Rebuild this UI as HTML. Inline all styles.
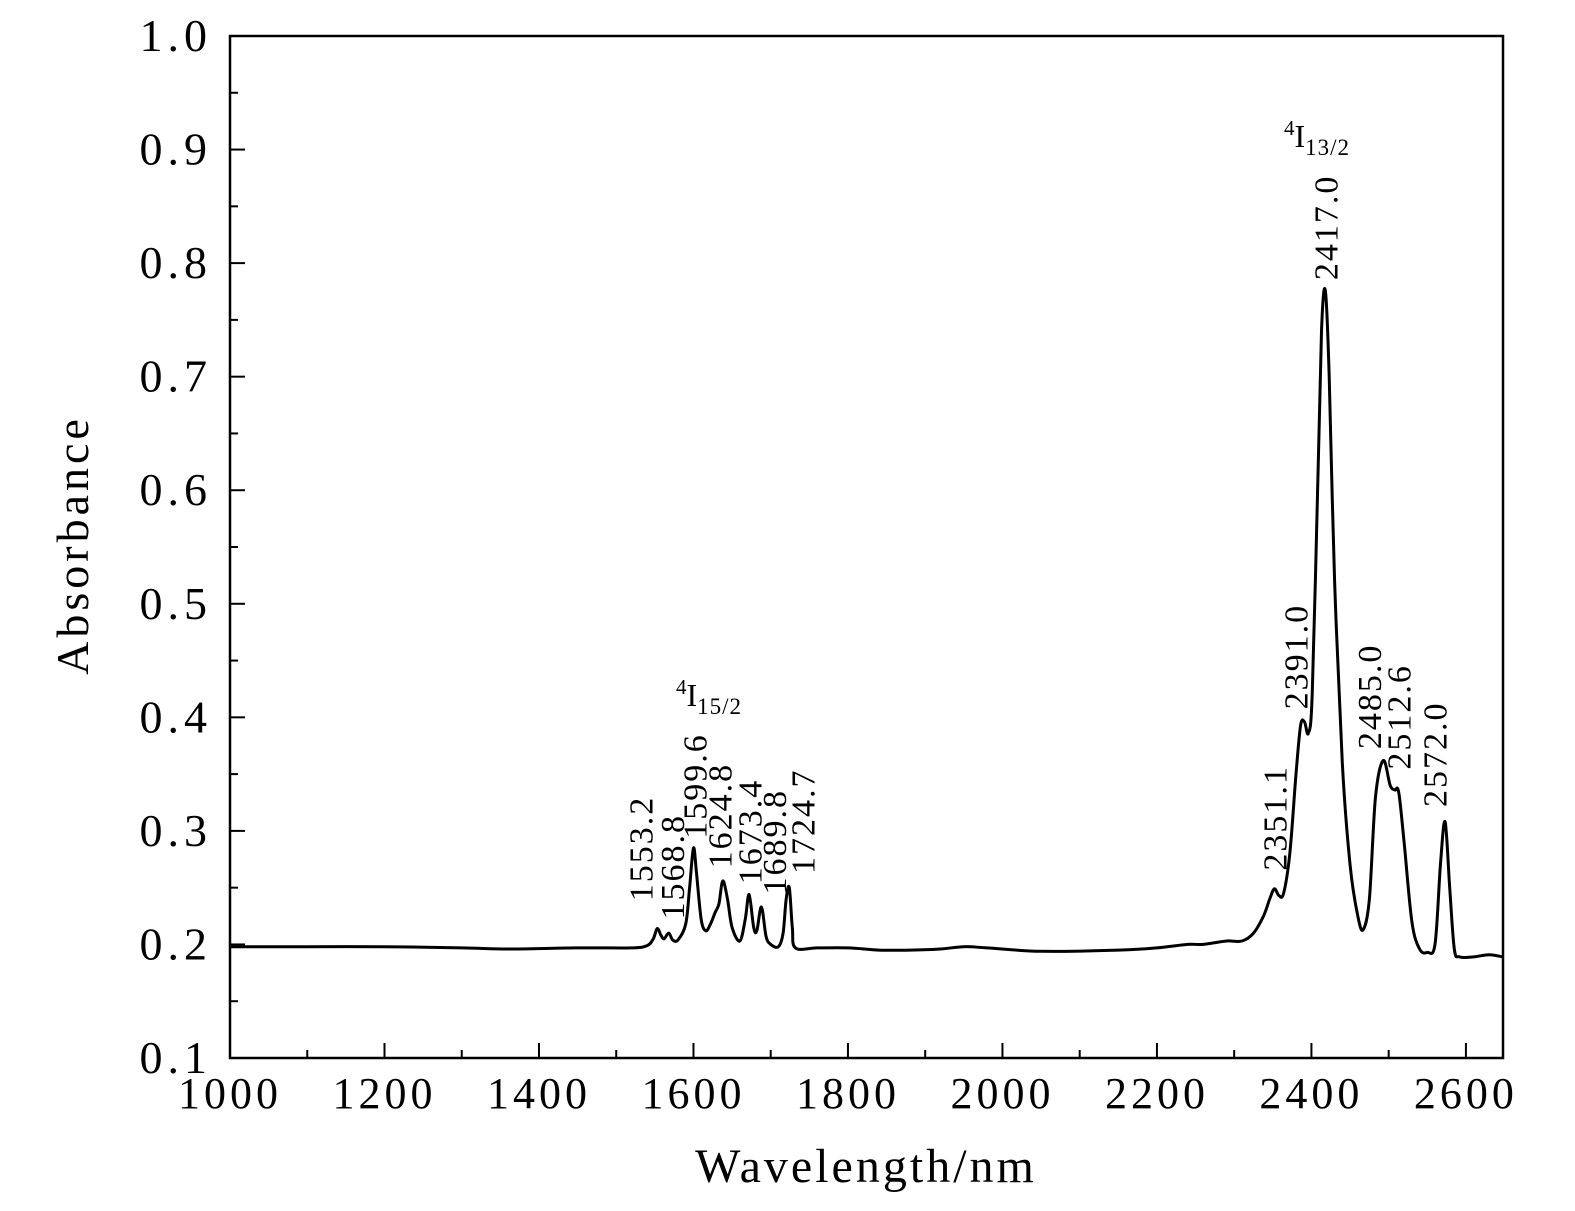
<!DOCTYPE html>
<html><head><meta charset="utf-8"><style>
html,body{margin:0;padding:0;background:#fff;}
svg{display:block;font-family:"Liberation Serif",serif;}
</style></head><body>
<svg id="chart" width="1575" height="1211" viewBox="0 0 1575 1211">
<g id="axes"></g>
<g id="series"></g>
<g id="labels"></g>
<text transform="translate(88,545) rotate(-90)" text-anchor="middle" font-size="46" letter-spacing="4">Absorbance</text>
<text x="866" y="1182" text-anchor="middle" font-size="48" letter-spacing="3">Wavelength/nm</text>
<text x="676" y="706" font-size="32"><tspan font-size="21" dy="-12">4</tspan><tspan dy="12">I</tspan><tspan font-size="23" dy="8" letter-spacing="1">15/2</tspan></text>
<text x="1284" y="147" font-size="32"><tspan font-size="21" dy="-12">4</tspan><tspan dy="12">I</tspan><tspan font-size="23" dy="8" letter-spacing="1">13/2</tspan></text>
</svg>
<script>
const xTicks=[1000,1200,1400,1600,1800,2000,2200,2400,2600];
const yTicks=[0.1,0.2,0.3,0.4,0.5,0.6,0.7,0.8,0.9,1.0];
const wavelengths=[1000,1100,1200,1300,1360,1450,1520,1540,1548,1553,1558,1562,1568,1573,1580,1590,1595,1600,1604,1610,1616,1622,1628,1633,1638,1644,1650,1660,1667,1672,1678,1682,1688,1694,1700,1710,1716,1720,1724,1728,1732,1760,1800,1840,1880,1920,1950,1980,2050,2150,2200,2240,2260,2290,2310,2325,2338,2346,2352,2358,2364,2372,2380,2386,2391,2396,2401,2408,2413,2418,2423,2430,2440,2450,2460,2467,2475,2483,2493,2502,2508,2513,2520,2530,2540,2550,2560,2567,2573,2579,2585,2592,2610,2630,2648];
const absorbance=[0.198,0.198,0.198,0.197,0.196,0.197,0.197,0.199,0.205,0.214,0.208,0.205,0.210,0.204,0.204,0.218,0.250,0.285,0.262,0.222,0.212,0.218,0.228,0.236,0.256,0.240,0.215,0.203,0.222,0.244,0.215,0.212,0.233,0.207,0.200,0.198,0.210,0.240,0.250,0.215,0.197,0.197,0.197,0.195,0.195,0.196,0.198,0.197,0.194,0.195,0.197,0.200,0.200,0.203,0.203,0.210,0.225,0.240,0.249,0.243,0.245,0.280,0.350,0.393,0.396,0.386,0.420,0.600,0.740,0.776,0.700,0.520,0.360,0.270,0.225,0.213,0.240,0.330,0.362,0.340,0.336,0.334,0.290,0.220,0.196,0.193,0.200,0.270,0.308,0.250,0.196,0.189,0.189,0.191,0.189];
const peakLabels=["1553.2","1568.8","1599.6","1624.8","1673.4","1689.8","1724.7","2351.1","2391.0","2417.0","2485.0","2512.6","2572.0"];
const peakLabelWl=[1547,1588,1617,1649,1688,1720,1757,2368,2395,2434,2490,2528,2575];
const peakLabelAbs=[0.238,0.222,0.293,0.267,0.253,0.244,0.262,0.265,0.407,0.785,0.372,0.354,0.321];
const L=230,R=1503,T=36,B=1058,X0=1000,X1=2648,Y0=0.1,Y1=1.0;
const xs=v=>L+(v-X0)/(X1-X0)*(R-L);
const ys=v=>B-(v-Y0)/(Y1-Y0)*(B-T);
const NS="http://www.w3.org/2000/svg";
function mk(tag,attrs,parent){const e=document.createElementNS(NS,tag);for(const k in attrs)e.setAttribute(k,attrs[k]);parent.appendChild(e);return e;}
const axes=document.getElementById('axes');
const frame=mk('rect',{x:L,y:T,width:R-L,height:B-T,fill:'none',stroke:'#000','stroke-width':2.5},axes);


for(let v=1000;v<=2600;v+=100){
  const major=(v%200===0);
  const t=mk('line',{x1:xs(v),x2:xs(v),y1:B,y2:B-(major?15:8),stroke:'#000','stroke-width':2},axes);
  
  
}
xTicks.forEach(v=>{
  const t=mk('text',{x:xs(v),y:1108,'text-anchor':'middle','font-size':44,'letter-spacing':4},axes);
  t.textContent=v;
  
  
});
for(let i=0;i<=18;i++){
  const v=0.1+i*0.05;const major=(i%2===0);
  const t=mk('line',{x1:L,x2:L+(major?15:8),y1:ys(v),y2:ys(v),stroke:'#000','stroke-width':2},axes);
  
  
}
yTicks.forEach(v=>{
  const t=mk('text',{x:212,y:ys(v)+15,'text-anchor':'end','font-size':46,'letter-spacing':5},axes);
  t.textContent=v.toFixed(1);
  
  
});
const pts=wavelengths.map((w,i)=>[xs(w),ys(absorbance[i])]);
let d='M'+pts[0][0].toFixed(1)+','+pts[0][1].toFixed(1);
for(let i=0;i<pts.length-1;i++){
  const p0=pts[Math.max(0,i-1)],p1=pts[i],p2=pts[i+1],p3=pts[Math.min(pts.length-1,i+2)];
  const c1=[p1[0]+(p2[0]-p0[0])/6,p1[1]+(p2[1]-p0[1])/6];
  const c2=[p2[0]-(p3[0]-p1[0])/6,p2[1]-(p3[1]-p1[1])/6];
  d+=' C'+c1[0].toFixed(1)+','+c1[1].toFixed(1)+' '+c2[0].toFixed(1)+','+c2[1].toFixed(1)+' '+p2[0].toFixed(1)+','+p2[1].toFixed(1);
}
const line=mk('path',{d:d,fill:'none',stroke:'#000','stroke-width':3,'stroke-linejoin':'round'},document.getElementById('series'));


const lg=document.getElementById('labels');
peakLabels.forEach((s,i)=>{
  const x=xs(peakLabelWl[i]),y=ys(peakLabelAbs[i]);
  const t=mk('text',{transform:`translate(${x.toFixed(1)},${y.toFixed(1)}) rotate(-90)`,'font-size':34,'letter-spacing':2,'font-family':'Liberation Serif, serif'},lg);
  t.textContent=s;
  
  
});
</script>
</body></html>
